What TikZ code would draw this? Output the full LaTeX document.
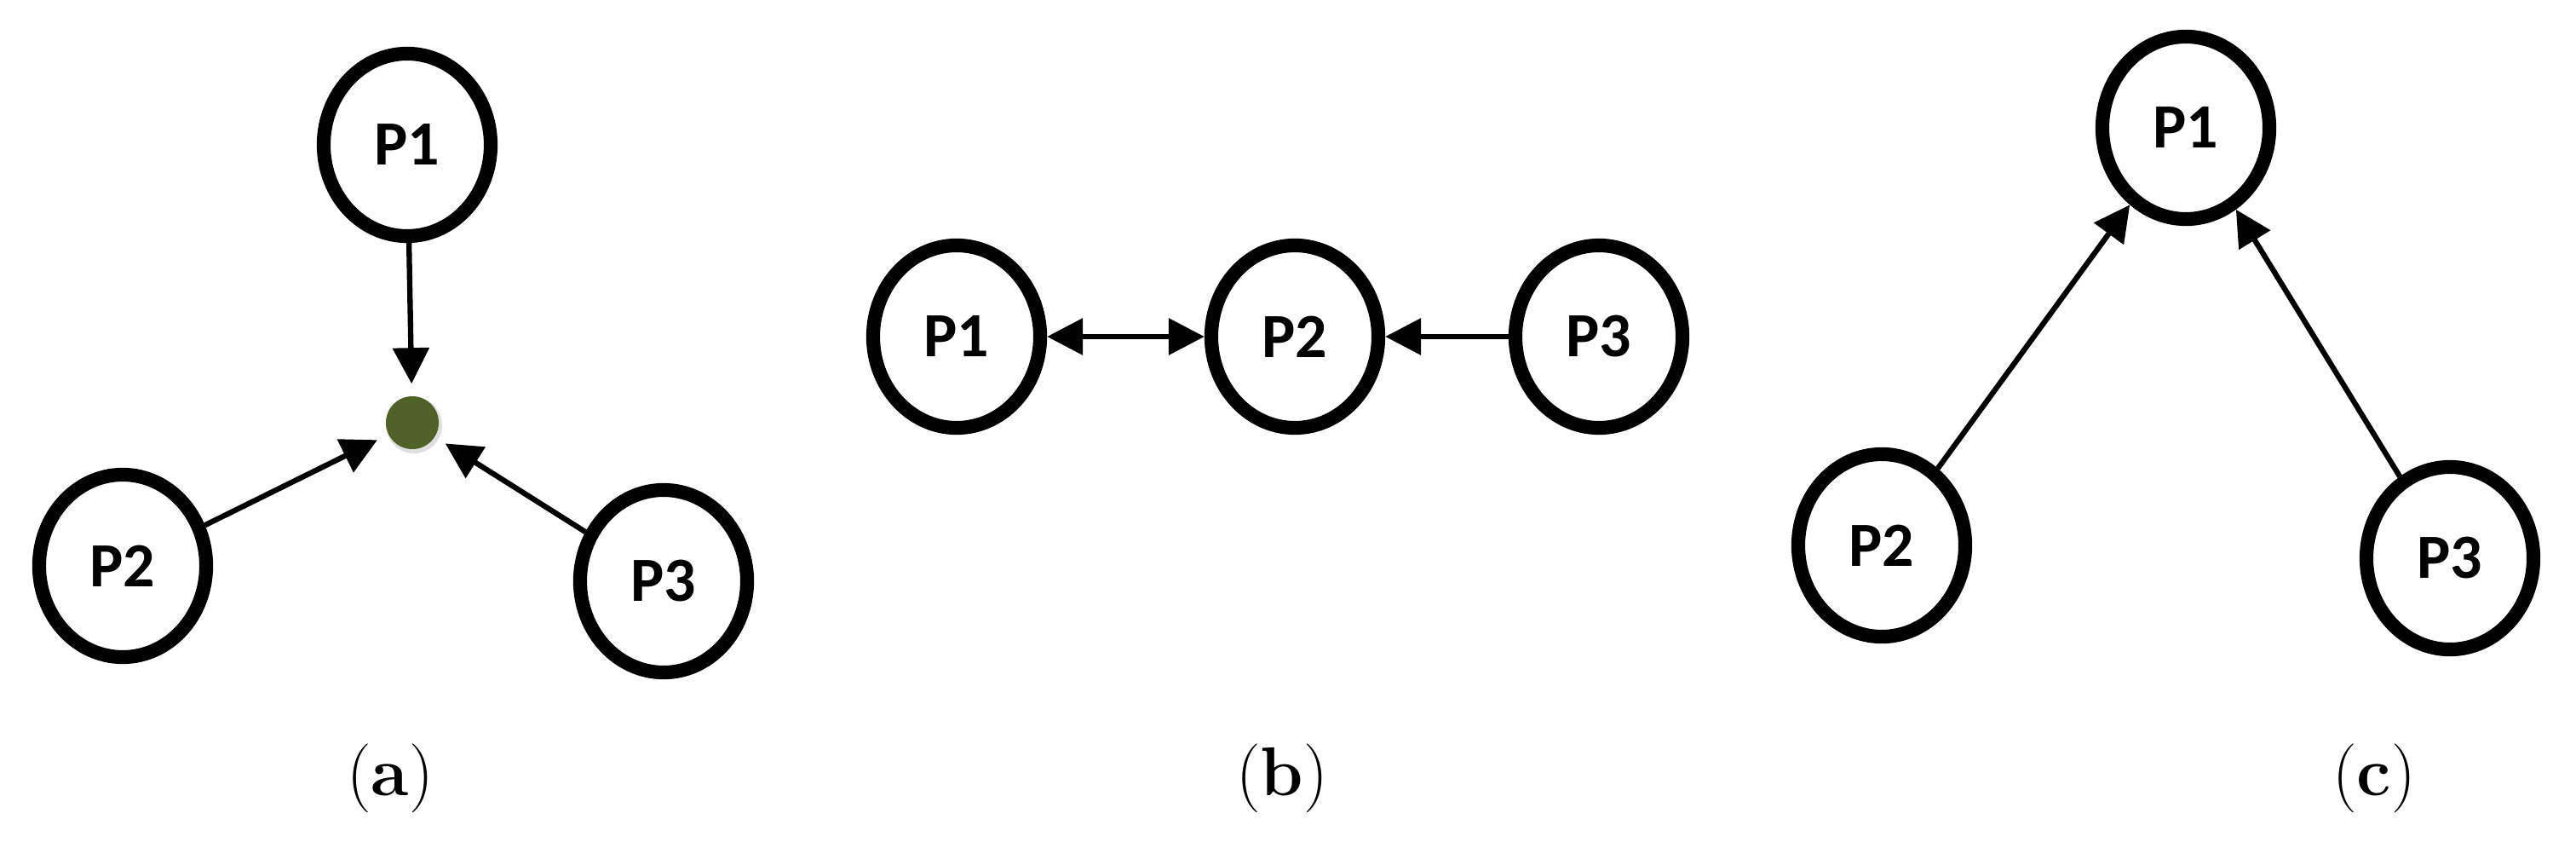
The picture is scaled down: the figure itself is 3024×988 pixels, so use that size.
\documentclass[tikz,border=0pt]{standalone}
\usepackage{fontspec}
\newfontfamily\labfont{Carlito}
\usetikzlibrary{arrows.meta,shapes.geometric}
\definecolor{dotgreen}{HTML}{4F6228}
\begin{document}
\begin{tikzpicture}[x=0.01cm,y=-0.01cm,
  proc/.style={draw,line width=4.6pt,ellipse,minimum width=1.96cm,minimum height=2.14cm,inner sep=0pt,font=\labfont\bfseries\fontsize{21}{24}\selectfont},
  conn/.style={line width=1.8pt,-{Triangle[length=0.42cm,width=0.42cm]}},
  capt/.style={font=\fontsize{23}{26}\selectfont}]
\useasboundingbox (0,0) rectangle (3024,988);
% (a)
\node[proc] (a1) at (478,170) {P1};
\node[proc] (a2) at (144,664) {P2};
\node[proc] (a3) at (779,682) {P3};
\fill[gray!25] (486,499) circle (33);
\node[circle,fill=dotgreen,minimum size=0.62cm,inner sep=0pt] (dot) at (484,496) {};
\draw[conn,shorten >=4pt] (a1) -- (dot);
\draw[conn,shorten >=4pt] (a2) -- (dot);
\draw[conn,shorten >=4pt] (a3) -- (dot);
\node[capt] (ca) at (458,913) {(\textbf{a})};
% (b)
\node[proc] (b1) at (1123,395) {P1};
\node[proc] (b2) at (1520,395) {P2};
\node[proc] (b3) at (1877,395) {P3};
\draw[line width=1.8pt,{Triangle[length=0.42cm,width=0.42cm]}-{Triangle[length=0.42cm,width=0.42cm]}] (b1) -- (b2);
\draw[conn] (b3) -- (b2);
\node[capt] (cb) at (1505,913) {(\textbf{b})};
% (c)
\node[proc] (c1) at (2566,150) {P1};
\node[proc] (c2) at (2209,640) {P2};
\node[proc] (c3) at (2876,655) {P3};
\draw[conn] (c2) -- (c1);
\draw[conn] (c3) -- (c1);
\node[capt] (cc) at (2787,913) {(\textbf{c})};
\end{tikzpicture}
\end{document}
